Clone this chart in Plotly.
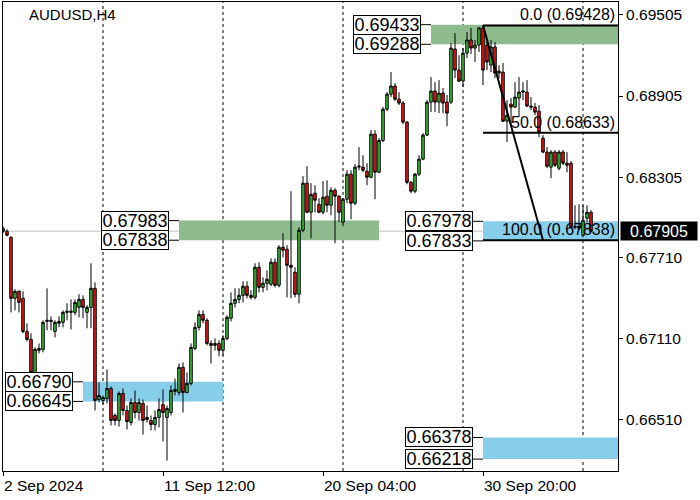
import plotly.graph_objects as go

# ---------------- data (AUDUSD H4) ----------------
opens = [0.67927,0.67904,0.67860,0.67408,0.67460,0.67408,0.67163,0.67104,0.66860,0.67023,
         0.67030,0.67237,0.67245,0.67163,0.67223,0.67230,0.67304,0.67304,0.67304,0.67341,
         0.67400,0.67304,0.67341,0.67482,0.66659,0.66652,0.66667,0.66741,0.66541,0.66504,
         0.66704,0.66578,0.66489,0.66637,0.66563,0.66630,0.66526,0.66504,0.66474,0.66526,
         0.66622,0.66526,0.66563,0.66719,0.66711,0.66897,0.66711,0.66778,0.67037,0.67193,
         0.67289,0.67245,0.67074,0.67060,0.67074,0.67023,0.67111,0.67260,0.67371,0.67400,
         0.67430,0.67497,0.67430,0.67415,0.67638,0.67489,0.67519,0.67512,0.67675,0.67504,
         0.67786,0.67771,0.67652,0.67601,0.67438,0.67912,0.68260,0.68045,0.68186,0.68104,
         0.68045,0.68164,0.68097,0.68208,0.68164,0.67971,0.68141,0.68327,0.68112,0.68379,
         0.68379,0.68349,0.68304,0.68623,0.68341,0.68576,0.68808,0.68919,0.68979,0.68882,
         0.68853,0.68712,0.68267,0.68201,0.68327,0.68438,0.68616,0.68860,0.68942,0.68860,
         0.68927,0.68860,0.68860,0.69253,0.69097,0.69016,0.69223,0.69320,0.69260,0.69283,
         0.69409,0.69283,0.69134,0.69268,0.69075,0.69082,0.68719,0.68845,0.68823,0.68890,
         0.68934,0.68934,0.68831,0.68823,0.68793,0.68593,0.68490,0.68379,0.68490,0.68371,
         0.68490,0.68408,0.68408,0.67941,0.67941,0.67875,0.68001,0.68045]
highs = [0.67941,0.67919,0.67867,0.67475,0.67467,0.67460,0.67223,0.67149,0.67045,0.67074,
         0.67245,0.67482,0.67274,0.67245,0.67274,0.67319,0.67371,0.67400,0.67400,0.67438,
         0.67430,0.67356,0.67667,0.67526,0.66785,0.66689,0.66882,0.66756,0.66556,0.66719,
         0.66741,0.66615,0.66667,0.66726,0.66667,0.66659,0.66615,0.66541,0.66578,0.66667,
         0.66734,0.66615,0.66763,0.66815,0.66926,0.66934,0.66860,0.67074,0.67230,0.67319,
         0.67319,0.67260,0.67097,0.67111,0.67097,0.67134,0.67282,0.67452,0.67482,0.67482,
         0.67534,0.67534,0.67467,0.67667,0.67675,0.67563,0.67615,0.67704,0.67704,0.67801,
         0.67890,0.67801,0.68201,0.67638,0.67934,0.68312,0.68386,0.68260,0.68245,0.68149,
         0.68275,0.68282,0.68230,0.68223,0.68171,0.68149,0.68356,0.68356,0.68401,0.68527,
         0.68467,0.68408,0.68653,0.68653,0.68593,0.68823,0.68934,0.69082,0.69001,0.68934,
         0.68868,0.68719,0.68275,0.68334,0.68467,0.68630,0.68875,0.69045,0.69008,0.69023,
         0.68964,0.68912,0.69297,0.69371,0.69208,0.69260,0.69379,0.69409,0.69320,0.69416,
         0.69428,0.69305,0.69320,0.69305,0.69134,0.69149,0.68875,0.68890,0.69008,0.69045,
         0.69008,0.69023,0.68897,0.68853,0.68838,0.68616,0.68527,0.68505,0.68505,0.68505,
         0.68505,0.68490,0.68423,0.68097,0.68104,0.68097,0.68097,0.68060]
lows = [0.67890,0.67867,0.67304,0.67319,0.67304,0.67149,0.67089,0.66837,0.66837,0.67000,
        0.67008,0.67171,0.67171,0.67119,0.67193,0.67193,0.67245,0.67178,0.67282,0.67267,
        0.67260,0.67186,0.67186,0.66578,0.66637,0.66622,0.66630,0.66467,0.66467,0.66459,
        0.66541,0.66437,0.66467,0.66519,0.66504,0.66400,0.66489,0.66430,0.66430,0.66452,
        0.66348,0.66207,0.66541,0.66689,0.66689,0.66563,0.66704,0.66763,0.67023,0.67171,
        0.67223,0.67060,0.66926,0.67023,0.66978,0.66985,0.67097,0.67237,0.67341,0.67371,
        0.67378,0.67408,0.67400,0.67400,0.67452,0.67452,0.67467,0.67497,0.67489,0.67489,
        0.67712,0.67415,0.67408,0.67415,0.67371,0.67897,0.68038,0.67852,0.68045,0.68038,
        0.68030,0.68045,0.68023,0.67815,0.67971,0.67941,0.68112,0.67993,0.68097,0.68356,
        0.68341,0.68245,0.68297,0.68141,0.68334,0.68564,0.68793,0.68897,0.68868,0.68838,
        0.68697,0.68252,0.68186,0.68186,0.68312,0.68430,0.68608,0.68786,0.68786,0.68779,
        0.68779,0.68682,0.68845,0.69038,0.69008,0.68971,0.69186,0.69216,0.69157,0.69231,
        0.68986,0.69097,0.69082,0.69038,0.69038,0.68712,0.68564,0.68690,0.68816,0.68749,
        0.68875,0.68823,0.68801,0.68764,0.68601,0.68482,0.68371,0.68297,0.68379,0.68356,
        0.68393,0.68341,0.67927,0.67919,0.67912,0.67860,0.67971,0.67897]
closes = [0.67904,0.67875,0.67408,0.67460,0.67378,0.67163,0.67104,0.66860,0.67030,0.67037,
          0.67230,0.67245,0.67237,0.67230,0.67237,0.67304,0.67312,0.67312,0.67378,0.67400,
          0.67341,0.67341,0.67482,0.66652,0.66689,0.66674,0.66741,0.66504,0.66504,0.66704,
          0.66578,0.66496,0.66637,0.66563,0.66637,0.66504,0.66511,0.66474,0.66526,0.66585,
          0.66563,0.66593,0.66726,0.66734,0.66897,0.66711,0.66778,0.67045,0.67193,0.67289,
          0.67245,0.67074,0.67060,0.67074,0.67023,0.67111,0.67267,0.67371,0.67400,0.67430,
          0.67497,0.67430,0.67415,0.67638,0.67489,0.67519,0.67549,0.67675,0.67504,0.67786,
          0.67764,0.67652,0.67638,0.67438,0.67912,0.68260,0.68045,0.68178,0.68134,0.68045,
          0.68156,0.68097,0.68208,0.68164,0.68045,0.68141,0.68327,0.68112,0.68379,0.68386,
          0.68356,0.68304,0.68623,0.68341,0.68576,0.68808,0.68919,0.68979,0.68882,0.68853,
          0.68712,0.68267,0.68201,0.68327,0.68438,0.68616,0.68860,0.68942,0.68860,0.68927,
          0.68853,0.68779,0.69260,0.69097,0.69016,0.69223,0.69320,0.69260,0.69283,0.69409,
          0.69097,0.69157,0.69268,0.69075,0.69090,0.68719,0.68764,0.68823,0.68897,0.68934,
          0.68942,0.68831,0.68823,0.68786,0.68638,0.68490,0.68386,0.68490,0.68393,0.68490,
          0.68408,0.68393,0.67934,0.67934,0.67927,0.67986,0.68045,0.67905]

bars = list(range(len(opens)))

x_tick_bars = [0, 40, 80, 120]
x_tick_labels = ["2 Sep 2024", "11 Sep 12:00", "20 Sep 04:00", "30 Sep 20:00"]
y_tick_values = [0.69505, 0.68905, 0.68305, 0.67710, 0.67110, 0.66510]
week_start_bars = [25, 55, 85, 115, 145]

bid_price = 0.67905

# zones: (upper price, lower price, first bar, colour)
zone_upper = [0.67983, 0.66790, 0.69433, 0.67978, 0.66378]
zone_lower = [0.67838, 0.66645, 0.69288, 0.67833, 0.66218]
zone_start = [44, 20, 107, 120, 120]
zone_end = [94, 55, None, None, None]          # None = extends to the right edge
zone_color = ["#8fbc8f", "#87ceeb", "#8fbc8f", "#87ceeb", "#87ceeb"]

# Fibonacci retracement
fib_high, fib_low = 0.69428, 0.67838
fib_high_bar, fib_low_bar = 120, 135
fib_levels = [0.0, 50.0, 100.0]

# ---------------- figure ----------------
X_MAX = 153.75
Y_MIN, Y_MAX = 0.66130, 0.69601
FONT = "Liberation Sans"

fig = go.Figure()
fig.add_trace(go.Candlestick(
    x=bars, open=opens, high=highs, low=lows, close=closes,
    increasing=dict(line=dict(color="black", width=1), fillcolor="#3ec83e"),
    decreasing=dict(line=dict(color="black", width=1), fillcolor="#ff1414"),
    whiskerwidth=0, hoverinfo="skip", showlegend=False))

shapes = []
# zones
for up, lo, s, e, c in zip(zone_upper, zone_lower, zone_start, zone_end, zone_color):
    shapes.append(dict(type="rect", xref="x", yref="y", x0=s, x1=(e if e is not None else X_MAX),
                       y0=lo, y1=up, fillcolor=c, line=dict(width=0), layer="below"))
# week separators
for b in week_start_bars:
    shapes.append(dict(type="line", xref="x", yref="paper", x0=b, x1=b, y0=0, y1=1,
                       line=dict(color="black", width=1, dash="3px,3px"), layer="below"))
# bid line
shapes.append(dict(type="line", xref="paper", yref="y", x0=0, x1=1, y0=bid_price, y1=bid_price,
                   line=dict(color="#c0c0c0", width=1), layer="below"))
# fib lines
for lvl in fib_levels:
    p = fib_high - (fib_high - fib_low) * lvl / 100
    shapes.append(dict(type="line", xref="x", yref="y", x0=fib_high_bar, x1=X_MAX, y0=p, y1=p,
                       line=dict(color="black", width=2)))
shapes.append(dict(type="line", xref="x", yref="y", x0=fib_high_bar, x1=fib_low_bar,
                   y0=fib_high, y1=fib_low, line=dict(color="black", width=2)))

annotations = []
# zone price labels with connectors
for up, lo, s in zip(zone_upper, zone_lower, zone_start):
    lab_x = s - 2.5
    for p in (up, lo):
        shapes.append(dict(type="line", xref="x", yref="y", x0=lab_x, x1=s, y0=p, y1=p,
                           line=dict(color="black", width=1)))
        annotations.append(dict(x=lab_x, y=p, xref="x", yref="y", text=f"{p:.5f}",
                                showarrow=False, xanchor="right", yanchor="middle",
                                font=dict(family=FONT, size=18, color="black"),
                                bgcolor="white", bordercolor="black", borderwidth=1,
                                borderpad=0, width=66, height=18))
# fib labels
for lvl in fib_levels:
    p = fib_high - (fib_high - fib_low) * lvl / 100
    annotations.append(dict(x=1, y=p, xref="paper", yref="y", text=f"{lvl:.1f} ({p:.5f})",
                            showarrow=False, xanchor="right", yanchor="bottom", xshift=-1,
                            font=dict(family=FONT, size=16, color="black")))
# current price box
annotations.append(dict(x=1, y=bid_price, xref="paper", yref="y", text=f"{bid_price:.5f}",
                        showarrow=False, xanchor="left", yanchor="middle", xshift=2,
                        font=dict(family=FONT, size=16, color="white"),
                        bgcolor="black", borderpad=1, width=74, height=16))
# title
annotations.append(dict(x=24 / 615, y=1, xref="paper", yref="paper", text="AUDUSD,H4",
                        showarrow=False, xanchor="left", yanchor="top", yshift=-2,
                        font=dict(family=FONT, size=15, color="black")))

fig.update_layout(
    width=700, height=500,
    margin=dict(l=3, r=82, t=2, b=29),
    paper_bgcolor="white", plot_bgcolor="white",
    font=dict(family=FONT, size=15.5, color="black"),
    shapes=shapes, annotations=annotations,
    showlegend=False, hovermode=False, boxgap=0.1,
    xaxis=dict(range=[0, X_MAX], type="linear", rangeslider=dict(visible=False),
               showgrid=False, zeroline=False, showline=True, mirror=True,
               linecolor="black", linewidth=1,
               tickmode="array", tickvals=x_tick_bars, ticktext=x_tick_labels,
               ticks="outside", ticklen=4, tickcolor="black",
               ticklabelposition="outside right"),
    yaxis=dict(range=[Y_MIN, Y_MAX], side="right", showgrid=False, zeroline=False,
               showline=True, mirror=True, linecolor="black", linewidth=1,
               tickmode="array", tickvals=y_tick_values,
               ticktext=[f"{v:.5f}" for v in y_tick_values],
               ticks="outside", ticklen=4, tickcolor="black"),
)

fig.write_html("out.html", config={"displayModeBar": False},
               post_script="document.body.style.margin='0';document.body.style.padding='0';")
